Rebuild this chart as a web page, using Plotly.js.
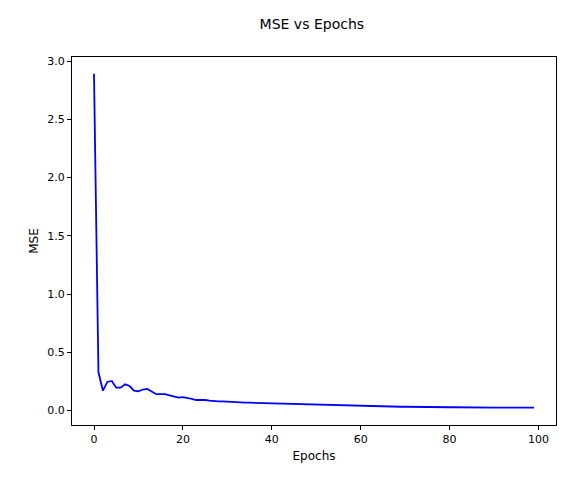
<!DOCTYPE html><html><head><script src="https://cdn.plot.ly/plotly-3.0.0.min.js"></script></head><body style="margin:0"><div id="c" style="width:567px;height:480px"></div><script>
const mse=[2.89,0.33,0.17,0.245,0.254,0.196,0.196,0.225,0.21,0.17,0.165,0.18,0.185,0.16,0.14,0.14,0.14,0.13,0.12,0.11,0.115,0.11,0.10,0.09,0.092,0.09,0.085,0.08,0.078,0.078,0.075,0.072,0.07,0.069,0.068,0.067,0.066,0.063,0.061,0.06,0.059,0.058,0.057,0.055,0.054,0.052,0.05,0.049,0.048,0.047,0.046,0.045,0.044,0.043,0.042,0.041,0.04,0.039,0.039,0.038,0.037,0.036,0.036,0.035,0.035,0.034,0.034,0.033,0.033,0.032,0.032,0.031,0.031,0.030,0.030,0.030,0.029,0.029,0.029,0.028,0.028,0.028,0.027,0.027,0.027,0.027,0.026,0.026,0.026,0.026,0.025,0.025,0.025,0.025,0.025,0.024,0.024,0.024,0.024,0.024];
const epochs=mse.map((_,i)=>i);
const ax={automargin:false,showgrid:false,zeroline:false,showline:true,mirror:true,linecolor:'#000',ticks:'outside',ticklen:4,tickcolor:'#000',tickfont:{size:11,color:'#000'}};
Plotly.newPlot('c',[{x:epochs,y:mse,mode:'lines',line:{color:'#0000ff',width:1.8}}],{
width:567,height:480,margin:{l:72,r:11,t:57,b:55},paper_bgcolor:'#fff',plot_bgcolor:'#fff',
font:{family:'DejaVu Sans',color:'#000'},
title:{text:'MSE vs Epochs',font:{size:14},x:0.55,xanchor:'center',y:0.96,yref:'container',automargin:false},
xaxis:Object.assign({},ax,{range:[-4.95,103.95],tickvals:[0,20,40,60,80,100],title:{text:'Epochs',font:{size:12},standoff:6}}),
yaxis:Object.assign({},ax,{range:[-0.1245,3.0345],tickvals:[0,0.5,1,1.5,2,2.5,3],ticktext:['0.0','0.5','1.0','1.5','2.0','2.5','3.0'],title:{text:'MSE',font:{size:12},standoff:6}})
},{displayModeBar:false});
</script></body></html>
